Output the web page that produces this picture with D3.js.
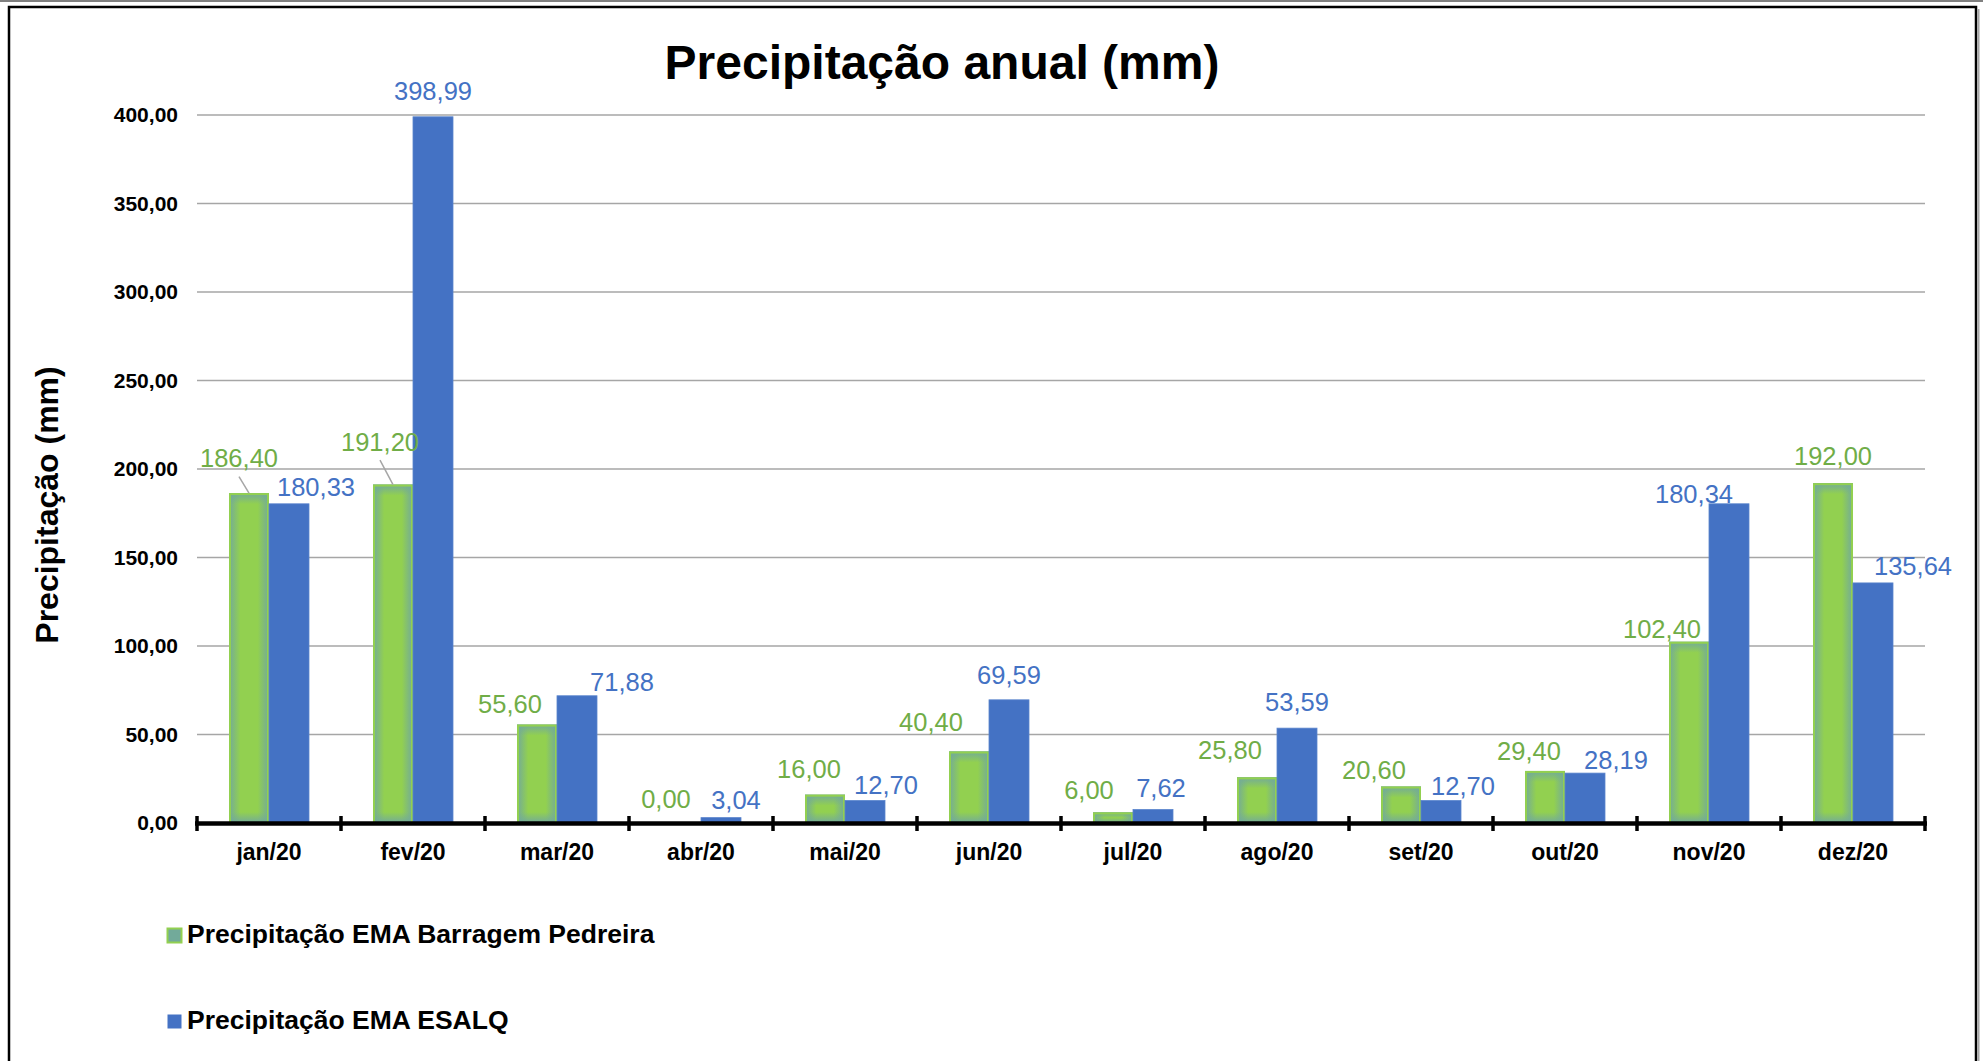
<!DOCTYPE html>
<html>
<head>
<meta charset="utf-8">
<script src="https://cdn.jsdelivr.net/npm/d3@7"></script>
<style>
  html, body { margin: 0; padding: 0; background: #ffffff; }
  svg { display: block; font-family: "Liberation Sans", Arial, sans-serif; }
</style>
</head>
<body>
<svg id="chart" width="1983" height="1061"></svg>
<script>
// Monthly rainfall, 2020 (mm)
const categories = ["jan/20", "fev/20", "mar/20", "abr/20", "mai/20", "jun/20",
                    "jul/20", "ago/20", "set/20", "out/20", "nov/20", "dez/20"];
const pedreira = [186.40, 191.20, 55.60, 0.00, 16.00, 40.40, 6.00, 25.80, 20.60, 29.40, 102.40, 192.00];
const esalq    = [180.33, 398.99, 71.88, 3.04, 12.70, 69.59, 7.62, 53.59, 12.70, 28.19, 180.34, 135.64];
const seriesNames = ["Precipitação EMA Barragem Pedreira", "Precipitação EMA ESALQ"];
const yTickValues = [0, 50, 100, 150, 200, 250, 300, 350, 400];

// Hand-placed value labels: [dx, dy] of the label baseline from the bar's top centre
const pedreiraLabelShift = [[-10, -26], [-13, -34], [-27, -12], [-15, -15], [-16, -17], [-38, -20],
                            [-24, -13], [-27, -18], [-27, -8], [-16, -11], [-27, -4], [0, -18]];
const esalqLabelShift    = [[27, -8], [0, -17], [45, -5], [15, -9], [21, -7], [0, -16],
                            [8, -13], [0, -17], [22, -6], [31, -4], [-35, -1], [40, -8]];
// Labels joined to their bar by a leader line
const leaderMonths = ["jan/20", "fev/20"];

const ptBR = d3.formatLocale({ decimal: ",", thousands: ".", grouping: [3], currency: ["R$", ""] });
const fmt = ptBR.format(".2f");

const svg = d3.select("#chart");
const W = 1983, H = 1061;
const plot = { left: 197, right: 1925, top: 115, bottom: 823 };

const GREEN_TEXT = "#70ad47", BLUE = "#4472c4";
const GREEN_FILL = "#92d050", GREEN_EDGE = "#72aa9a";

// ---- frame ----
svg.append("line").attr("x1", 0).attr("x2", W).attr("y1", 1).attr("y2", 1)
  .attr("stroke", "#808080").attr("stroke-width", 2);
svg.append("rect").attr("x", 9).attr("y", 7).attr("width", 1967).attr("height", H + 20)
  .attr("fill", "none").attr("stroke", "#000").attr("stroke-width", 2.5);
svg.append("line").attr("x1", 1978.5).attr("x2", 1978.5).attr("y1", 9).attr("y2", H)
  .attr("stroke", "#a6a6a6").attr("stroke-width", 2);

// ---- gradients for the green bars: teal fading in from every edge ----
const defs = svg.append("defs");
const side = defs.append("linearGradient").attr("id", "greenSides")
  .attr("x1", 0).attr("x2", 1).attr("y1", 0).attr("y2", 0);
[[0, GREEN_EDGE], [0.28, GREEN_FILL], [0.72, GREEN_FILL], [1, GREEN_EDGE]]
  .forEach(([o, c]) => side.append("stop").attr("offset", o).attr("stop-color", c));
const topFade = defs.append("linearGradient").attr("id", "greenTop")
  .attr("x1", 0).attr("x2", 0).attr("y1", 0).attr("y2", 1);
topFade.append("stop").attr("offset", 0).attr("stop-color", GREEN_EDGE).attr("stop-opacity", 1);
topFade.append("stop").attr("offset", 1).attr("stop-color", GREEN_EDGE).attr("stop-opacity", 0);
const bottomFade = defs.append("linearGradient").attr("id", "greenBottom")
  .attr("x1", 0).attr("x2", 0).attr("y1", 1).attr("y2", 0);
bottomFade.append("stop").attr("offset", 0).attr("stop-color", GREEN_EDGE).attr("stop-opacity", 1);
bottomFade.append("stop").attr("offset", 1).attr("stop-color", GREEN_EDGE).attr("stop-opacity", 0);

// ---- scales ----
const x0 = d3.scaleBand().domain(categories).range([plot.left, plot.right])
  .paddingInner(64 / 144).paddingOuter(32 / 144);
const x1 = d3.scaleBand().domain([0, 1]).range([0, x0.bandwidth()]);
const y = d3.scaleLinear().domain([0, 400]).range([plot.bottom, plot.top]);

// ---- title ----
svg.append("text").attr("x", 942).attr("y", 79).attr("text-anchor", "middle")
  .attr("font-size", 48).attr("font-weight", "bold").attr("fill", "#000")
  .text("Precipitação anual (mm)");

// ---- gridlines ----
svg.append("g").selectAll("line").data(yTickValues.filter(v => v > 0)).join("line")
  .attr("x1", plot.left).attr("x2", plot.right)
  .attr("y1", d => y(d)).attr("y2", d => y(d))
  .attr("stroke", "#a6a6a6").attr("stroke-width", 1.5);

// ---- y axis labels ----
const yAxis = svg.append("g").attr("transform", `translate(${plot.left},0)`)
  .call(d3.axisLeft(y).tickValues(yTickValues).tickSize(0).tickPadding(19).tickFormat(fmt));
yAxis.select(".domain").remove();
yAxis.selectAll("text").attr("font-size", 21).attr("font-weight", "bold")
  .attr("fill", "#000").attr("font-family", "Liberation Sans, Arial, sans-serif");

svg.append("text")
  .attr("transform", "translate(58,505) rotate(-90)")
  .attr("text-anchor", "middle").attr("font-size", 32).attr("font-weight", "bold")
  .text("Precipitação (mm)");

// ---- bars ----
const rows = categories.map((c, i) => ({ c, i, v: [pedreira[i], esalq[i]] }));
const groups = svg.append("g").selectAll("g").data(rows).join("g")
  .attr("transform", d => `translate(${x0(d.c)},0)`);

const barH = v => y(0) - y(v);
const fadeH = v => Math.min(11, barH(v) / 2);
const green = groups.filter(d => d.v[0] > 0);

// green: sides, then top and bottom fades, then the light green outline
green.append("rect")
  .attr("x", x1(0)).attr("width", x1.bandwidth())
  .attr("y", d => y(d.v[0])).attr("height", d => barH(d.v[0]))
  .attr("fill", "url(#greenSides)");
green.append("rect")
  .attr("x", x1(0)).attr("width", x1.bandwidth())
  .attr("y", d => y(d.v[0])).attr("height", d => fadeH(d.v[0]))
  .attr("fill", "url(#greenTop)");
green.append("rect")
  .attr("x", x1(0)).attr("width", x1.bandwidth())
  .attr("y", d => y(0) - fadeH(d.v[0])).attr("height", d => fadeH(d.v[0]))
  .attr("fill", "url(#greenBottom)");
green.append("rect")
  .attr("x", x1(0) + 1).attr("width", x1.bandwidth() - 2)
  .attr("y", d => y(d.v[0]) + 1).attr("height", d => Math.max(0, barH(d.v[0]) - 1))
  .attr("fill", "none").attr("stroke", GREEN_FILL).attr("stroke-width", 2);

// blue
groups.append("rect")
  .attr("x", x1(1)).attr("width", x1.bandwidth())
  .attr("y", d => y(d.v[1])).attr("height", d => barH(d.v[1]))
  .attr("fill", BLUE).attr("stroke", "#5a84cc").attr("stroke-width", 0.8);

// ---- x axis ----
svg.append("line").attr("x1", plot.left - 2).attr("x2", plot.right + 2)
  .attr("y1", plot.bottom + 0.5).attr("y2", plot.bottom + 0.5)
  .attr("stroke", "#000").attr("stroke-width", 4.5);
const boundaries = categories.map(c => x0(c) - (x0.step() - x0.bandwidth()) / 2)
  .concat([plot.right]);
svg.append("g").selectAll("line").data(boundaries).join("line")
  .attr("x1", d => d).attr("x2", d => d)
  .attr("y1", plot.bottom - 7).attr("y2", plot.bottom + 8)
  .attr("stroke", "#000").attr("stroke-width", 3.5);

svg.append("g").selectAll("text").data(categories).join("text")
  .attr("x", d => x0(d) + x0.bandwidth() / 2).attr("y", 860)
  .attr("text-anchor", "middle").attr("font-size", 23).attr("font-weight", "bold")
  .text(d => d);

// ---- value labels ----
const labels = [];
rows.forEach(d => {
  [0, 1].forEach(s => {
    const shift = (s === 0 ? pedreiraLabelShift : esalqLabelShift)[d.i];
    const cx = x0(d.c) + x1(s) + x1.bandwidth() / 2;
    const top = y(d.v[s]);
    labels.push({ c: d.c, s, v: d.v[s], cx, top, lx: cx + shift[0], ly: top + shift[1] });
  });
});

svg.append("g").selectAll("line").data(labels.filter(l => l.s === 0 && leaderMonths.includes(l.c))).join("line")
  .attr("x1", l => l.lx).attr("y1", l => l.ly + 9.5)
  .attr("x2", l => l.cx).attr("y2", l => l.top)
  .attr("stroke", "#a6a6a6").attr("stroke-width", 1.5);

svg.append("g").selectAll("text").data(labels).join("text")
  .attr("x", l => l.lx).attr("y", l => l.ly)
  .attr("text-anchor", "middle").attr("font-size", 25.5)
  .attr("fill", l => l.s === 0 ? GREEN_TEXT : BLUE)
  .text(l => fmt(l.v));

// ---- legend ----
const legend = svg.append("g");
const legendRows = [
  { name: seriesNames[0], y: 943 },
  { name: seriesNames[1], y: 1029 }
];
legend.selectAll("rect").data(legendRows).join("rect")
  .attr("x", 167.5).attr("y", d => d.y - 14.5)
  .attr("width", 14).attr("height", 14)
  .attr("fill", (d, i) => i === 0 ? GREEN_EDGE : BLUE)
  .attr("stroke", (d, i) => i === 0 ? GREEN_FILL : "none")
  .attr("stroke-width", 2);
legend.selectAll("text").data(legendRows).join("text")
  .attr("x", 187).attr("y", d => d.y)
  .attr("font-size", 26.5).attr("font-weight", "bold")
  .text(d => d.name);
</script>
</body>
</html>
